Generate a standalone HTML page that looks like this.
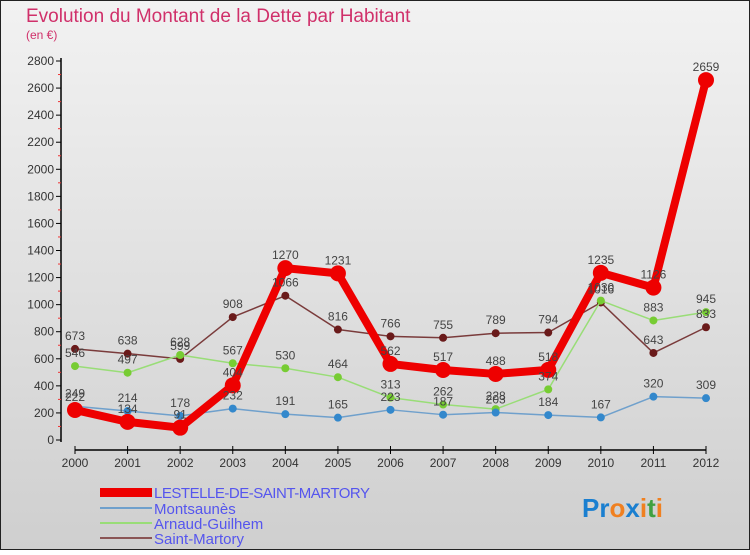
<!DOCTYPE html>
<html><head><meta charset="utf-8"><style>
body{margin:0;width:750px;height:550px;overflow:hidden;font-family:"Liberation Sans",sans-serif}
</style></head><body>
<svg width="750" height="550" xmlns="http://www.w3.org/2000/svg">
<defs><linearGradient id="bg" x1="0" y1="0" x2="0" y2="1"><stop offset="0" stop-color="#f2f2f2"/><stop offset="1" stop-color="#cfcfcf"/></linearGradient></defs>
<rect x="0.5" y="0.5" width="749" height="549" fill="url(#bg)" stroke="#222"/>
<text x="26" y="22" font-size="19" fill="#d0306a">Evolution du Montant de la Dette par Habitant</text>
<text x="26" y="39" font-size="12" fill="#d0306a">(en €)</text>
<g id="axes"></g><g id="series"></g><g id="labels"></g>
<g font-size="15" fill="#5555ee">
<rect x="100" y="488" width="52" height="9" fill="#ee0000"/>
<text x="154" y="498" textLength="216">LESTELLE-DE-SAINT-MARTORY</text>
<line x1="100" y1="508" x2="152" y2="508" stroke="#6fa0cc" stroke-width="2"/>
<text x="154" y="514">Montsaunès</text>
<line x1="100" y1="523" x2="152" y2="523" stroke="#99dd77" stroke-width="2"/>
<text x="154" y="529">Arnaud-Guilhem</text>
<line x1="100" y1="538" x2="152" y2="538" stroke="#8a5555" stroke-width="2"/>
<text x="154" y="544">Saint-Martory</text>
</g>
<g font-size="26" font-weight="bold">
<text x="582" y="517"><tspan fill="#1a7fd0">Pr</tspan><tspan fill="#f08020">o</tspan><tspan fill="#1a7fd0">x</tspan><tspan fill="#f08020">i</tspan><tspan fill="#40a040">t</tspan><tspan fill="#f08020">i</tspan></text>
</g>
</svg>
<script>
const years=[2000,2001,2002,2003,2004,2005,2006,2007,2008,2009,2010,2011,2012];
const yTicks=[0,200,400,600,800,1000,1200,1400,1600,1800,2000,2200,2400,2600,2800];
const lestelle=[222,134,91,404,1270,1231,562,517,488,518,1235,1126,2659];
const montsaunes=[249,214,178,232,191,165,223,187,203,184,167,320,309];
const arnaud=[546,497,628,567,530,464,313,262,228,374,1030,883,945];
const saintMartory=[673,638,599,908,1066,816,766,755,789,794,1016,643,833];
const NS="http://www.w3.org/2000/svg";
const xs=i=>75+i*(706-75)/12;
const ys=v=>440-v*379/2800;
function mk(p,t,a){const e=document.createElementNS(NS,t);for(const k in a)e.setAttribute(k,a[k]);p.appendChild(e);return e;}
const ax=document.getElementById('axes');
const yAxis=mk(ax,'line',{x1:61,y1:58,x2:61,y2:442,stroke:'#000','stroke-width':1.5});


yTicks.forEach(t=>{
  mk(ax,'line',{x1:56,y1:ys(t),x2:61,y2:ys(t),stroke:'#000'});
  if(t<2800)mk(ax,'line',{x1:58,y1:ys(t+100),x2:61,y2:ys(t+100),stroke:'#e33'});
  const l=mk(ax,'text',{x:54,y:ys(t)+4,'font-size':12,fill:'#333','text-anchor':'end'});
  l.textContent=t;
  
  
});
const xAxis=mk(ax,'line',{x1:75,y1:450,x2:706,y2:450,stroke:'#000','stroke-width':1.5});


years.forEach((y,i)=>{
  mk(ax,'line',{x1:xs(i),y1:446,x2:xs(i),y2:454,stroke:'#000'});
  const l=mk(ax,'text',{x:xs(i),y:467,'font-size':12,fill:'#333','text-anchor':'middle'});
  l.textContent=y;
  
  
});
const sg=document.getElementById('series'),lg=document.getElementById('labels');
function series(name,data,color,dot,w,r){
  const g=mk(sg,'g',{});
  
  
  const pl=mk(g,'polyline',{points:data.map((v,i)=>xs(i)+','+ys(v)).join(' '),fill:'none',stroke:color,'stroke-width':w,'stroke-linejoin':'round'});
  
  
  data.forEach((v,i)=>{
    const c=mk(g,'circle',{cx:xs(i),cy:ys(v),r:r,fill:dot});
    
    
    const t=mk(lg,'text',{x:xs(i),y:ys(v)-9,'font-size':12,fill:'#444','text-anchor':'middle'});
    t.textContent=v;
    
    
  });
}
series('saint-martory',saintMartory,'#7a3b3b','#6a1a1a',1.5,4);
series('arnaud-guilhem',arnaud,'#99dd77','#77cc33',1.5,4);
series('montsaunes',montsaunes,'#6fa0cc','#3388cc',1.5,4);
series('lestelle',lestelle,'#ee0000','#ee0000',8,8);
</script>
</body></html>
